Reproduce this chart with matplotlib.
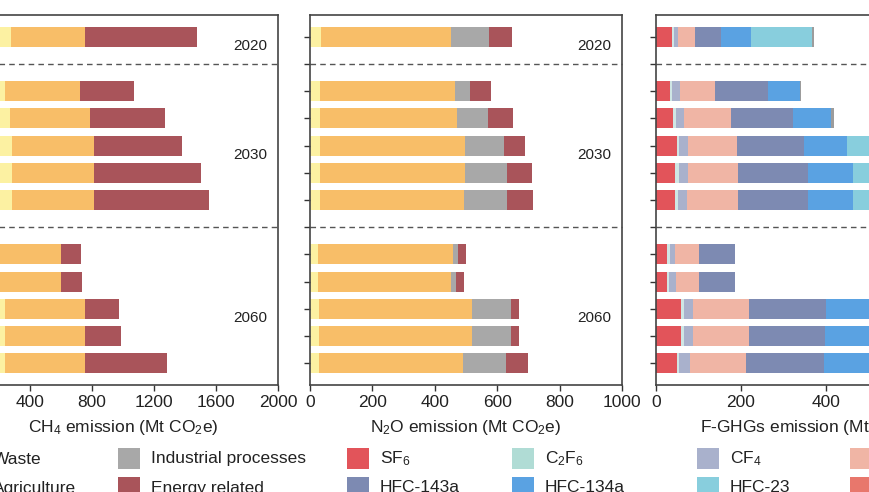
import numpy as np
import matplotlib
matplotlib.use('Agg')
import matplotlib.pyplot as plt
from matplotlib.patches import Rectangle

plt.rcParams['font.family'] = ['Liberation Sans', 'DejaVu Sans']
plt.rcParams['mathtext.fontset'] = 'custom'
plt.rcParams['mathtext.rm'] = 'Liberation Sans'
plt.rcParams['mathtext.it'] = 'Liberation Sans'
plt.rcParams['mathtext.default'] = 'regular'

# groups of bars, top to bottom
years = ['2020', '2030', '2060']
group_sizes = [1, 5, 5]

# CH4 (Mt CO2e), one value per bar
ch4_waste = [277, 239, 271, 284, 284, 284, 170, 170, 239, 239, 239]
ch4_agri = [478, 483, 516, 529, 529, 529, 430, 430, 516, 516, 516]
ch4_ind = [0, 0, 0, 0, 0, 0, 0, 0, 0, 0, 0]
ch4_energy = [722, 348, 484, 568, 690, 742, 129, 135, 219, 232, 529]

# N2O (Mt CO2e)
n2o_waste = [35, 32, 32, 32, 32, 32, 27, 27, 28, 28, 28]
n2o_agri = [416, 433, 439, 464, 464, 462, 430, 424, 491, 491, 463]
n2o_ind = [123, 49, 100, 126, 137, 139, 16, 16, 124, 124, 138]
n2o_energy = [74, 66, 80, 68, 79, 83, 28, 26, 26, 28, 70]

# F-GHGs (Mt CO2e)
sf6 = [38, 34, 39, 49, 45, 45, 27, 27, 60, 60, 49]
c2f6 = [4, 4, 8, 6, 8, 7, 5, 4, 7, 7, 6]
cf4 = [9, 18, 18, 21, 22, 21, 13, 15, 20, 20, 24]
hfc32 = [42, 84, 111, 114, 118, 120, 57, 56, 131, 131, 133]
hfc143a = [59, 124, 147, 159, 166, 166, 85, 85, 182, 179, 184]
hfc134a = [72, 74, 90, 100, 104, 104, 0, 0, 110, 110, 110]
hfc23 = [144, 0, 0, 120, 130, 140, 0, 0, 60, 60, 60]
hfc125 = [0, 0, 0, 0, 0, 0, 0, 0, 0, 0, 0]
others = [4, 4, 6, 5, 5, 5, 0, 0, 5, 5, 5]

sector_colors = ['#FCF1A2', '#F8BE68', '#A8A8A8', '#A9545A']
fgas_colors = ['#E2545A', '#CFE6E4', '#A9B1CC', '#F0B5A5', '#7D8AB2',
               '#5AA2E2', '#88CEDD', '#E8776C', '#9C9C9C']

# bar positions: one empty slot between year groups
ypos = []
sep = []
p = 0
for k, n in enumerate(group_sizes):
    ypos += list(range(p, p + n))
    p += n
    if k < len(group_sizes) - 1:
        sep.append(p)
        p += 1
ypos = np.array(ypos)

W, H = 870, 492
fig = plt.figure(figsize=(8.7, 4.92), dpi=100)
fig.patch.set_facecolor('white')

def px_axes(x0, x1, y0=15, y1=385):
    return fig.add_axes([x0 / W, 1 - y1 / H, (x1 - x0) / W, (y1 - y0) / H])

ax1 = px_axes(-32, 278)
ax2 = px_axes(310, 622)
ax3 = px_axes(656, 966)

panels = [
    (ax1, [ch4_waste, ch4_agri, ch4_ind, ch4_energy], sector_colors,
     2000, 400, 'CH$_4$ emission (Mt CO$_2$e)'),
    (ax2, [n2o_waste, n2o_agri, n2o_ind, n2o_energy], sector_colors,
     1000, 200, 'N$_2$O emission (Mt CO$_2$e)'),
    (ax3, [sf6, c2f6, cf4, hfc32, hfc143a, hfc134a, hfc23, hfc125, others],
     fgas_colors, 730, 200, 'F-GHGs emission (Mt CO$_2$e)'),
]

text_c = '#222222'
for ax, series, cols, xmax, step, xlabel in panels:
    left = np.zeros(len(ypos))
    for vals, c in zip(series, cols):
        vals = np.array(vals, dtype=float)
        ax.barh(ypos, vals, left=left, height=0.73, color=c, linewidth=0)
        left += vals
    for s in sep:
        ax.axhline(s, color='#555555', lw=1.0, ls=(0, (4, 3)), clip_on=False)
    ax.set_xlim(0, xmax)
    ax.set_ylim(ypos[-1] + 0.8, -0.8)
    ax.set_xticks(np.arange(0, xmax + 1, step))
    ax.set_yticks(np.arange(0, ypos[-1] + 1))
    ax.set_yticklabels([])
    ax.tick_params(axis='both', direction='out', length=4, width=1,
                   color='#333333', labelsize=12.5, labelcolor=text_c, pad=3)
    for sp in ax.spines.values():
        sp.set_color('#444444')
        sp.set_linewidth(1.2)
    ax.set_xlabel(xlabel, fontsize=12.5, color=text_c, labelpad=6)
    start = 0
    for yr, n in zip(years, group_sizes):
        yc = ypos[start:start + n].mean() + 0.33
        ax.text(0.91, yc, yr, transform=ax.get_yaxis_transform(),
                ha='center', va='center', fontsize=11, color=text_c)
        start += n

# legend drawn in pixel space
leg_cols = [
    [('Waste', '#FCF1A2'), ('Agriculture', '#F8BE68')],
    [('Industrial processes', '#A8A8A8'), ('Energy related', '#A9545A')],
    [('SF$_6$', '#E2545A'), ('HFC-143a', '#7D8AB2')],
    [('C$_2$F$_6$', '#B0DCD5'), ('HFC-134a', '#5AA2E2')],
    [('CF$_4$', '#A9B1CC'), ('HFC-23', '#88CEDD')],
    [('HFC-32', '#F0B5A5'), ('HFC-125', '#E8776C')],
    [('Others', '#9C9C9C'), ('', 'white')],
]
col_x = [-40, 118, 347, 512, 697, 850, 1010]
row_y = [448, 477]

lax = fig.add_axes([0, 0, 1, 1], zorder=-1)
lax.set_xlim(0, W)
lax.set_ylim(H, 0)
lax.axis('off')
for x, items in zip(col_x, leg_cols):
    for y, (lab, c) in zip(row_y, items):
        if not lab:
            continue
        lax.add_patch(Rectangle((x, y), 22, 21, color=c, lw=0, clip_on=False))
        lax.text(x + 33, y + 11, lab, ha='left', va='center',
                 fontsize=12.5, color=text_c, clip_on=False)

fig.savefig('out.png', dpi=100)
